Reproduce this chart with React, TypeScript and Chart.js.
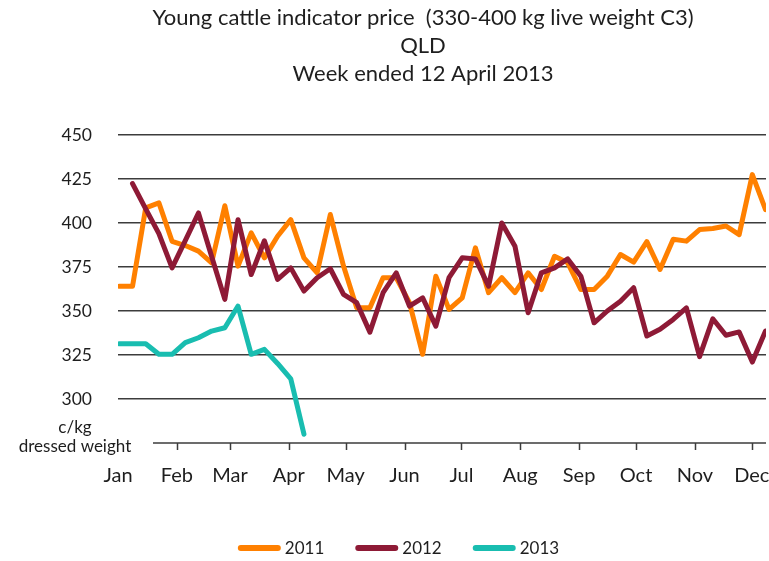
import React, { useEffect, useRef } from 'react';
import { Chart, registerables } from 'chart.js';

Chart.register(...registerables);

const titleLines = [
  'Young cattle indicator price  (330-400 kg live weight C3)',
  'QLD',
  'Week ended 12 April 2013',
];
const axisNote = ['c/kg', 'dressed weight'];
const monthLabels = ['Jan', 'Feb', 'Mar', 'Apr', 'May', 'Jun', 'Jul', 'Aug', 'Sep', 'Oct', 'Nov', 'Dec'];
const monthStartDays = [0, 31, 59, 90, 120, 151, 181, 212, 243, 273, 304, 334];
const yTicks = [275, 300, 325, 350, 375, 400, 425, 450];

// week positions (day of year) of the weekly indicator points
const weekDays = [
  0.7, 7.65, 14.6, 21.55, 28.5, 35.45, 42.4, 49.35, 56.3, 63.25,
  70.2, 77.15, 84.1, 91.05, 98.0, 104.95, 111.9, 118.85, 125.8, 132.75,
  139.7, 146.65, 153.6, 160.55, 167.5, 174.45, 181.4, 188.35, 195.3, 202.25,
  209.2, 216.15, 223.1, 230.05, 237.0, 243.95, 250.9, 257.85, 264.8, 271.75,
  278.7, 285.65, 292.6, 299.55, 306.5, 313.45, 320.4, 327.35, 334.3, 341.25,
];

const series2011 = [
  364, 364, 408.6, 411.4, 389.6, 387.2, 384, 377.4, 409.8, 375.5,
  394.4, 380.2, 392.5, 401.9, 380.2, 371.7, 404.8, 375.5, 351.8, 351.8,
  368.9, 368.9, 354.7, 325.4, 369.8, 350.9, 357.5, 385.9, 360.4, 368.9,
  360.4, 371.7, 362.2, 381.1, 377.4, 362.2, 362.2, 369.8, 382.1, 377.8,
  389.4, 373.6, 390.8, 389.7, 396.3, 396.9, 398.3, 393.4, 427.5, 407.6,
];
const series2012 = [
  null, 422.4, 408, 394, 374.5, 390, 405.7, 381, 356.6, 401.9,
  370.7, 389.9, 367.9, 374.5, 361.3, 368.9, 374, 359.4, 354.7, 338,
  360.4, 371.7, 352.8, 357.5, 341.4, 368.9, 380.2, 379.6, 364.1, 400,
  386.8, 349, 371.7, 374.5, 379.6, 369.8, 343.3, 350, 355.6, 363.2,
  335.8, 339.6, 345.2, 351.8, 324.1, 345.6, 336.2, 338.1, 321, 338.6,
];
const series2013 = [
  331.4, 331.4, 331.4, 325.4, 325.4, 332, 334.8, 338.6, 340.5, 352.8,
  325.4, 328.2, 320.2, 311.4, 280,
];

const seriesNames = ['2011', '2012', '2013'];
const seriesColors = ['#FF8000', '#8E1A36', '#19BDB0'];

const FONT = 'Lato, "Open Sans", sans-serif';
const TEXT = '#1e1e1e';
const GRID = '#3c3c3c';

const toPoints = (vals: (number | null)[]) =>
  vals
    .map((v, i) => (v == null ? null : { x: weekDays[i], y: v }))
    .filter((p) => p !== null) as { x: number; y: number }[];

const extras = {
  id: 'extras',
  beforeDatasetsDraw(chart: any) {
    const { ctx, chartArea, scales } = chart;
    const xs = scales.x;
    const y0 = chartArea.bottom;
    ctx.save();
    ctx.strokeStyle = GRID;
    ctx.lineWidth = 1.5;
    ctx.beginPath();
    ctx.moveTo(chartArea.left + 35, y0);
    ctx.lineTo(chartArea.right, y0);
    for (let i = 1; i < monthStartDays.length; i++) {
      const px = Math.round(xs.getPixelForValue(monthStartDays[i])) + 0.5;
      ctx.moveTo(px, y0);
      ctx.lineTo(px, y0 + 7);
    }
    ctx.stroke();
    ctx.restore();
  },
  afterDraw(chart: any) {
    const { ctx, chartArea } = chart;
    ctx.save();
    ctx.fillStyle = TEXT;
    ctx.textAlign = 'center';
    ctx.textBaseline = 'middle';
    // title
    ctx.font = '22px ' + FONT;
    titleLines.forEach((t, i) => ctx.fillText(t, 423, 18 + i * 28));
    // axis unit note
    ctx.font = '17px ' + FONT;
    ctx.fillText(axisNote[0], 75, chartArea.bottom - 15);
    ctx.fillText(axisNote[1], 75, chartArea.bottom + 4);
    // legend
    ctx.font = '17px ' + FONT;
    const lineLen = 43;
    const gap = 4;
    const spacing = 31;
    const widths = seriesNames.map((n) => lineLen + gap + ctx.measureText(n).width);
    const total = widths.reduce((a, b) => a + b, 0) + spacing * (widths.length - 1);
    let x = 398.5 - total / 2;
    const ly = 548;
    ctx.textAlign = 'left';
    seriesNames.forEach((n, i) => {
      ctx.strokeStyle = seriesColors[i];
      ctx.lineWidth = 6;
      ctx.lineCap = 'round';
      ctx.beginPath();
      ctx.moveTo(x + 3, ly);
      ctx.lineTo(x + lineLen - 3, ly);
      ctx.stroke();
      ctx.fillText(n, x + lineLen + gap, ly + 1);
      x += widths[i] + spacing;
    });
    ctx.restore();
  },
};

export default function App() {
  const ref = useRef<HTMLCanvasElement | null>(null);

  useEffect(() => {
    if (!ref.current) return;
    const allSeries = [series2011, series2012, series2013];
    const chart = new Chart(ref.current, {
      type: 'line',
      data: {
        datasets: allSeries.map((s, i) => ({
          label: seriesNames[i],
          data: toPoints(s),
          borderColor: seriesColors[i],
          backgroundColor: seriesColors[i],
          borderWidth: 5,
          pointRadius: 0,
          pointHoverRadius: 0,
          tension: 0,
          borderJoinStyle: 'round' as const,
          borderCapStyle: 'round' as const,
          order: 3 - i,
        })),
      },
      options: {
        animation: false,
        responsive: false,
        maintainAspectRatio: false,
        layout: { padding: { top: 135, left: 0, right: 3, bottom: 0 } },
        plugins: {
          legend: { display: false },
          title: { display: false },
          tooltip: { enabled: false },
        },
        scales: {
          x: {
            type: 'linear',
            min: 0,
            max: 341.5,
            afterBuildTicks: (axis: any) => {
              axis.ticks = monthStartDays.map((v) => ({ value: v }));
            },
            afterFit: (axis: any) => {
              axis.height = 118;
              axis.paddingLeft = 0;
              axis.paddingRight = 0;
            },
            grid: { display: false, drawTicks: false },
            border: { display: false },
            ticks: {
              autoSkip: false,
              maxRotation: 0,
              padding: 21,
              color: TEXT,
              font: { family: FONT, size: 20 },
              callback: (_v: any, i: number) => monthLabels[i],
            },
          },
          y: {
            min: 275,
            max: 450,
            afterBuildTicks: (axis: any) => {
              axis.ticks = yTicks.map((v) => ({ value: v }));
            },
            afterFit: (axis: any) => {
              axis.width = 118;
              axis.paddingTop = 0;
              axis.paddingBottom = 0;
            },
            grid: {
              drawTicks: false,
              lineWidth: 1.5,
              color: (c: any) => (c.tick && c.tick.value === 275 ? 'rgba(0,0,0,0)' : GRID),
            },
            border: { display: false },
            ticks: {
              padding: 26,
              color: TEXT,
              font: { family: FONT, size: 17.5 },
              callback: (v: any) => (v === 275 ? '' : String(v)),
            },
          },
        },
      },
      plugins: [extras],
    });
    return () => chart.destroy();
  }, []);

  return (
    <div style={{ position: 'absolute', left: 0, top: 0, width: 769, height: 561, background: '#fff' }}>
      <canvas ref={ref} width={769} height={561} style={{ width: 769, height: 561, display: 'block' }} />
    </div>
  );
}
